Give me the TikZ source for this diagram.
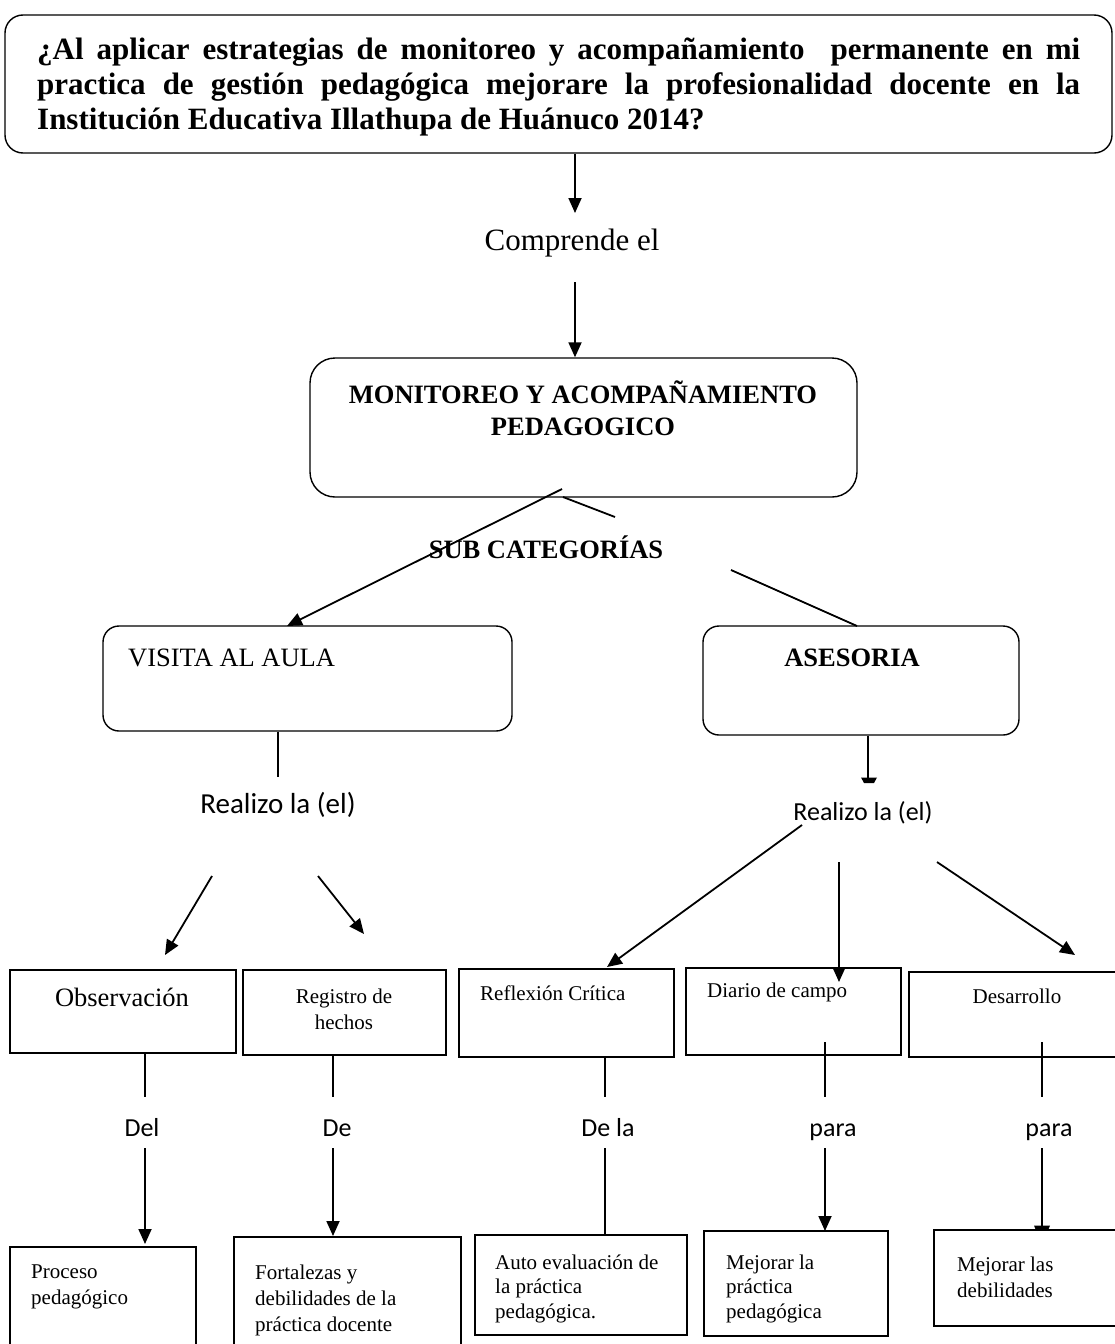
\documentclass[tikz,border=0pt]{standalone}
\usepackage{fontspec}
\setmainfont{Liberation Serif}
\newfontfamily\calfont{Carlito}
\usetikzlibrary{arrows.meta}
\newcommand\fsz[2]{\fontsize{#1}{#2}\selectfont}
\begin{document}
\begin{tikzpicture}[x=1pt,y=-1pt,
  box/.style={draw, line width=1.4pt, inner sep=0pt},
  rbox/.style={box, rounded corners=16pt},
  conn/.style={line width=1.8pt},
  arr/.style={conn, -{Triangle[length=15pt,width=13pt]}},
  tbig/.style={inner sep=0pt, font=\fsz{26.5}{32}},
  tbold/.style={inner sep=0pt, font=\fsz{26.5}{35}\bfseries},
  ttitle/.style={inner sep=0pt, font=\fsz{31}{35}\bfseries},
  tsmall/.style={inner sep=0pt, font=\fsz{21}{26}, align=left},
  tsmallb/.style={inner sep=0pt, font=\fsz{21}{24.5}, align=left},
  tcal/.style={inner sep=1pt, font=\calfont\fsz{26}{31}},
]
\useasboundingbox (0,0) rectangle (1115,1344);

% ---------- boxes ----------
\node[rbox, rounded corners=18pt, minimum width=1107pt, minimum height=138pt] (title) at (558.5,84) {};
\node[rbox, rounded corners=25pt, minimum width=547pt, minimum height=139pt] (mon) at (583.5,427.5) {};
\node[rbox, minimum width=409pt, minimum height=105pt] (vis) at (307.5,678.5) {};
\node[rbox, minimum width=316pt, minimum height=109pt] (ase) at (861,680.5) {};
\node[box, minimum width=226pt, minimum height=83pt] (obs) at (123,1011.5) {};
\node[box, minimum width=203pt, minimum height=85pt] (reg) at (344.5,1012.5) {};
\node[box, minimum width=215pt, minimum height=88pt] (ref) at (566.5,1013) {};
\node[box, minimum width=215pt, minimum height=87pt] (dia) at (793.5,1011.5) {};
\node[box, minimum width=221pt, minimum height=85pt] (des) at (1019.5,1014.5) {};
\node[box, minimum width=186pt, minimum height=123pt] (pro) at (103,1308.5) {};
\node[box, minimum width=227pt, minimum height=133pt] (fort) at (347.5,1303.5) {};
\node[box, minimum width=212pt, minimum height=100pt] (auto) at (581,1285) {};
\node[box, minimum width=184pt, minimum height=105pt] (mla) at (796,1283.5) {};
\node[box, minimum width=196pt, minimum height=96pt] (mlas) at (1032,1278) {};

% ---------- texts ----------
\node[ttitle, anchor=west] (t1) at (37,52) {\makebox[1043pt][s]{¿Al aplicar estrategias de monitoreo y acompañamiento \ permanente en mi}};
\node[ttitle, anchor=west] (t2) at (37,87) {\makebox[1043pt][s]{practica de gestión pedagógica mejorare la profesionalidad docente en la}};
\node[ttitle, anchor=west] (t3) at (37,122) {Institución Educativa Illathupa de Huánuco 2014?};
\node[inner sep=0pt, font=\fsz{31}{36}] (comp) at (572,243) {Comprende el};
\node[tbold] (m1) at (583,392) {MONITOREO Y ACOMPAÑAMIENTO};
\node[tbold] (m2) at (583,427) {PEDAGOGICO};
\node[tbold] (sub) at (546,547) {SUB CATEGORÍAS};
\node[tbig, anchor=west] (vist) at (128,658) {VISITA AL AULA};
\node[tbold] (aset) at (852,658) {ASESORIA};
\node[tcal, font=\calfont\fsz{29}{34}] (rl1) at (278,805) {Realizo la (el)};
\node[tcal] (rl2) at (863,813) {Realizo la (el)};
\node[tbig] (obst) at (122,997) {Observación};
\node[tsmall, align=center] (regt) at (344,1009) {Registro de\\hechos};
\node[tsmall, anchor=west] (reft) at (480,993) {Reflexión Crítica};
\node[tsmall, anchor=west] (diat) at (707,992) {Diario de campo};
\node[tsmall] (dest) at (1017,996) {Desarrollo};
\node[tcal, anchor=base] (del) at (142,1136) {Del};
\node[tcal, anchor=base] (de) at (337,1136) {De};
\node[tcal, anchor=base] (dela) at (608,1136) {De la};
\node[tcal, anchor=base] (para1) at (833,1136) {para};
\node[tcal, anchor=base] (para2) at (1049,1136) {para};
\node[tsmall, anchor=north west] (prot) at (31,1264.5) {Proceso\\pedagógico};
\node[tsmall, anchor=north west] (fortt) at (255,1264.5) {Fortalezas y\\debilidades de la\\práctica docente};
\node[tsmallb, anchor=north west] (autot) at (495,1254.5) {Auto evaluación de\\la práctica\\pedagógica.};
\node[tsmallb, anchor=north west] (mlat) at (726,1254.5) {Mejorar la\\práctica\\pedagógica};
\node[tsmall, anchor=north west] (mlast) at (957,1256.5) {Mejorar las\\debilidades};

% ---------- connector end points ----------
\coordinate (a1) at (575,213);
\coordinate (a2) at (575,282);
\coordinate (la) at (562,489);
\coordinate (latip) at (287,626);
\coordinate (lb1) at (563,497);
\coordinate (lb2) at (615,517);
\coordinate (lc1) at (731,570);
\coordinate (vd) at (278,777);
\coordinate (ad) at (868,778);
\coordinate (lo1) at (212,876);
\coordinate (lo2) at (165,955);
\coordinate (lr1) at (318,876);
\coordinate (lr2) at (364,934);
\coordinate (ra1) at (802,825);
\coordinate (ra2) at (607,967);
\coordinate (rb1) at (839,862);
\coordinate (rb2) at (839,982);
\coordinate (rc1) at (937,862);
\coordinate (rc2) at (1075,955);

% ---------- connectors ----------
\draw[arr] (a1 |- title.south) -- (a1);
\draw[arr] (a2) -- (a2 |- mon.north);
\draw[arr] (la) -- (latip);
\draw[conn] (lb1) -- (lb2);
\draw[conn] (lc1) -- (857,626);
\draw[conn] (vd |- vis.south) -- (vd);
\draw[conn] (ad |- ase.south) -- (ad);
\fill (861,777.5) -- (877,777.5) -- (874,783) -- (864,783) -- cycle;
\draw[arr] (lo1) -- (lo2);
\draw[arr] (lr1) -- (lr2);
\draw[arr] (ra1) -- (ra2);
\draw[arr] (rb1) -- (rb2);
\draw[arr] (rc1) -- (rc2);

\draw[conn] (145,1053) -- (145,1097);
\draw[arr] (145,1148) -- (145 ,1244);
\draw[conn] (333,1055) -- (333,1097);
\draw[arr] (333,1148) -- (333,1236);
\draw[conn] (605,1057) -- (605,1097);
\draw[conn] (605,1148) -- (605,1235);
\draw[conn] (825,1042) -- (825,1097);
\draw[arr] (825,1148) -- (825,1231);
\draw[conn] (1042,1042) -- (1042,1097);
\draw[conn] (1042,1148) -- (1042,1226);
\fill (1034,1225.5) -- (1050,1225.5) -- (1048,1230.5) -- (1036,1230.5) -- cycle;
\end{tikzpicture}
\end{document}
